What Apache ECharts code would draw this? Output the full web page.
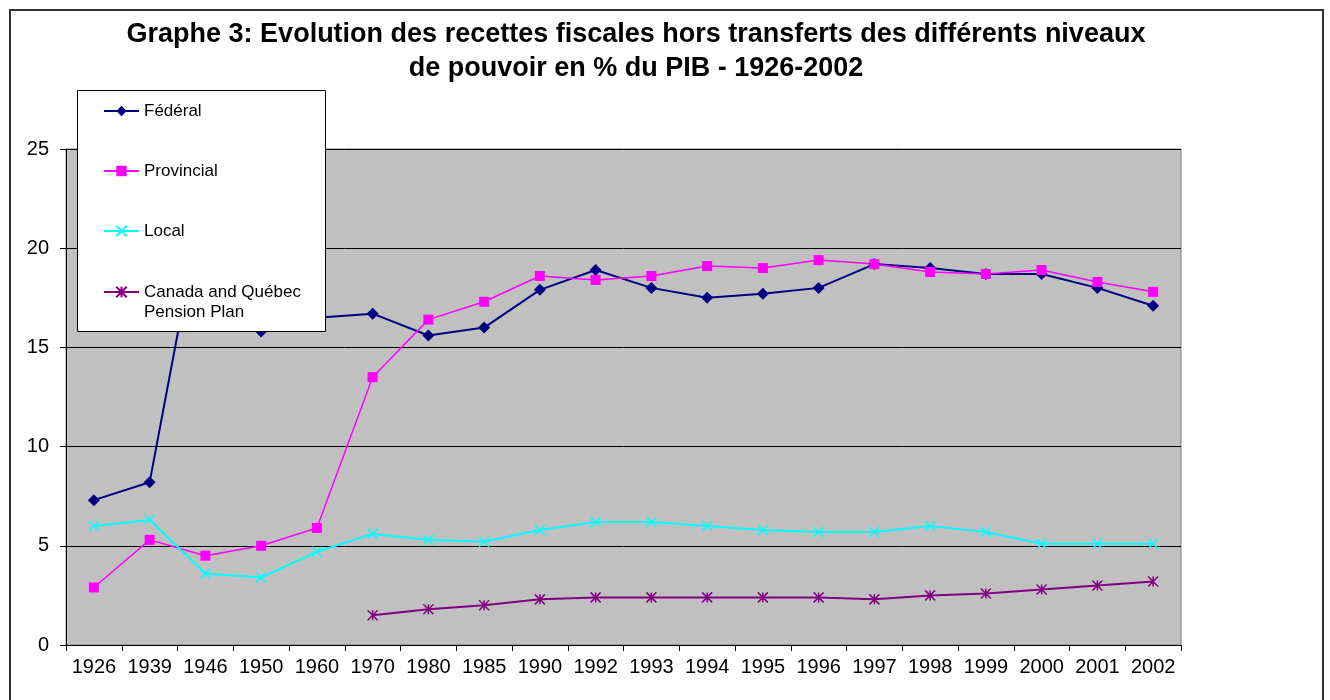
<!DOCTYPE html>
<html>
    <head>
        <meta charset="UTF-8">
        <title>Graphe 3</title>
        <style type="text/css">
            body,html{ margin: 0; padding: 0; width: 100vw; height: 100vh; overflow: hidden; background: #fff;}
            .chart-box{ width: 1330px; height: 700px;}
        </style>
    </head>
    <body>
        <div class="chart-box" id="chart"></div>

        <script src="https://cdn.jsdelivr.net/npm/echarts@6/dist/echarts.min.js"></script>
        <script type="text/javascript">
            // années (catégories)
            var years = ['1926','1939','1946','1950','1960','1970','1980','1985','1990','1992',
                         '1993','1994','1995','1996','1997','1998','1999','2000','2001','2002'];
            // % du PIB
            var federal    = [7.3, 8.2, 23.1, 15.8, 16.5, 16.7, 15.6, 16.0, 17.9, 18.9,
                              18.0, 17.5, 17.7, 18.0, 19.2, 19.0, 18.7, 18.7, 18.0, 17.1];
            var provincial = [2.9, 5.3, 4.5, 5.0, 5.9, 13.5, 16.4, 17.3, 18.6, 18.4,
                              18.6, 19.1, 19.0, 19.4, 19.2, 18.8, 18.7, 18.9, 18.3, 17.8];
            var local      = [6.0, 6.3, 3.6, 3.4, 4.7, 5.6, 5.3, 5.2, 5.8, 6.2,
                              6.2, 6.0, 5.8, 5.7, 5.7, 6.0, 5.7, 5.1, 5.1, 5.1];
            var pension    = [null, null, null, null, null, 1.5, 1.8, 2.0, 2.3, 2.4,
                              2.4, 2.4, 2.4, 2.4, 2.3, 2.5, 2.6, 2.8, 3.0, 3.2];
            var seriesNames = ['Fédéral', 'Provincial', 'Local', 'Canada and Québec\nPension Plan'];

            var FONT = '"Liberation Sans", Arial, sans-serif';
            var symX = 'path://M0,0L10,10M10,0L0,10';
            var symStar = 'path://M0,0L10,10M10,0L0,10M5,0L5,10';

            var myChart = echarts.init(document.getElementById('chart'));

            var legendText = { fontFamily: FONT, fontSize: 17, color: '#000', lineHeight: 20 };

            var option = {
                backgroundColor: '#fff',
                animation: false,
                title: {
                    text: 'Graphe 3: Evolution des recettes fiscales hors transferts des différents niveaux\nde pouvoir en % du PIB - 1926-2002',
                    left: 631,
                    top: 13,
                    textAlign: 'center',
                    textStyle: { fontFamily: FONT, fontSize: 27, fontWeight: 'bold', color: '#000', lineHeight: 34 }
                },
                graphic: [
                    { //cadre extérieur
                        type: 'rect', z: 0,
                        shape: { x: 10, y: 10, width: 1313, height: 700 },
                        style: { fill: 'none', stroke: '#333', lineWidth: 2 }
                    },
                    { //cadre légende
                        type: 'rect', z: 10,
                        shape: { x: 77.5, y: 90.5, width: 248, height: 241 },
                        style: { fill: '#fff', stroke: '#000', lineWidth: 1 }
                    }
                ],
                legend: [
                    {
                        data: seriesNames.slice(0, 3),
                        orient: 'vertical', left: 98, top: 96, z: 20,
                        itemWidth: 35, itemHeight: 13, itemGap: 40,
                        selectedMode: false,
                        textStyle: legendText
                    },
                    {
                        data: [seriesNames[3]],
                        orient: 'vertical', left: 98, top: 257, z: 20,
                        itemWidth: 35, itemHeight: 13,
                        selectedMode: false,
                        // ligne vide devant pour aligner la 1re ligne sur le symbole
                        formatter: function (name) { return '\n' + name; },
                        textStyle: legendText
                    }
                ],
                grid: { left: 66, right: 149, top: 149, bottom: 55, show: true,
                        backgroundColor: '#C0C0C0', borderColor: '#808080', borderWidth: 1 },
                xAxis: {
                    type: 'category',
                    data: years,
                    boundaryGap: true,
                    axisLine: { lineStyle: { color: '#000', width: 1 } },
                    axisTick: { show: true, length: 6, interval: 0, lineStyle: { color: '#000' } },
                    axisLabel: { interval: 0, margin: 12, fontFamily: FONT, fontSize: 20, color: '#000' },
                    splitLine: { show: false }
                },
                yAxis: {
                    type: 'value',
                    min: 0, max: 25, interval: 5,
                    axisLine: { show: true, lineStyle: { color: '#000', width: 1 } },
                    axisTick: { show: true, length: 6, lineStyle: { color: '#000' } },
                    axisLabel: { margin: 17, fontFamily: FONT, fontSize: 20, color: '#000' },
                    splitLine: { show: true, lineStyle: { color: '#000', width: 1 } }
                },
                series: [
                    {
                        name: seriesNames[0], type: 'line', data: federal,
                        symbol: 'diamond', symbolSize: 12, showAllSymbol: true,
                        lineStyle: { color: '#000080', width: 2 },
                        itemStyle: { color: '#000080' }
                    },
                    {
                        name: seriesNames[1], type: 'line', data: provincial,
                        symbol: 'rect', symbolSize: 10, showAllSymbol: true,
                        lineStyle: { color: '#FF00FF', width: 1.5 },
                        itemStyle: { color: '#FF00FF' }
                    },
                    {
                        name: seriesNames[2], type: 'line', data: local,
                        symbol: symX, symbolSize: 10, showAllSymbol: true,
                        lineStyle: { color: '#00FFFF', width: 2 },
                        itemStyle: { color: '#00FFFF', borderColor: '#00FFFF', borderWidth: 1.5 }
                    },
                    {
                        name: seriesNames[3], type: 'line', data: pension,
                        symbol: symStar, symbolSize: 10, showAllSymbol: true,
                        lineStyle: { color: '#800080', width: 2 },
                        itemStyle: { color: '#800080', borderColor: '#800080', borderWidth: 1.5 }
                    }
                ]
            };

            myChart.setOption(option);
        </script>
    </body>
</html>
